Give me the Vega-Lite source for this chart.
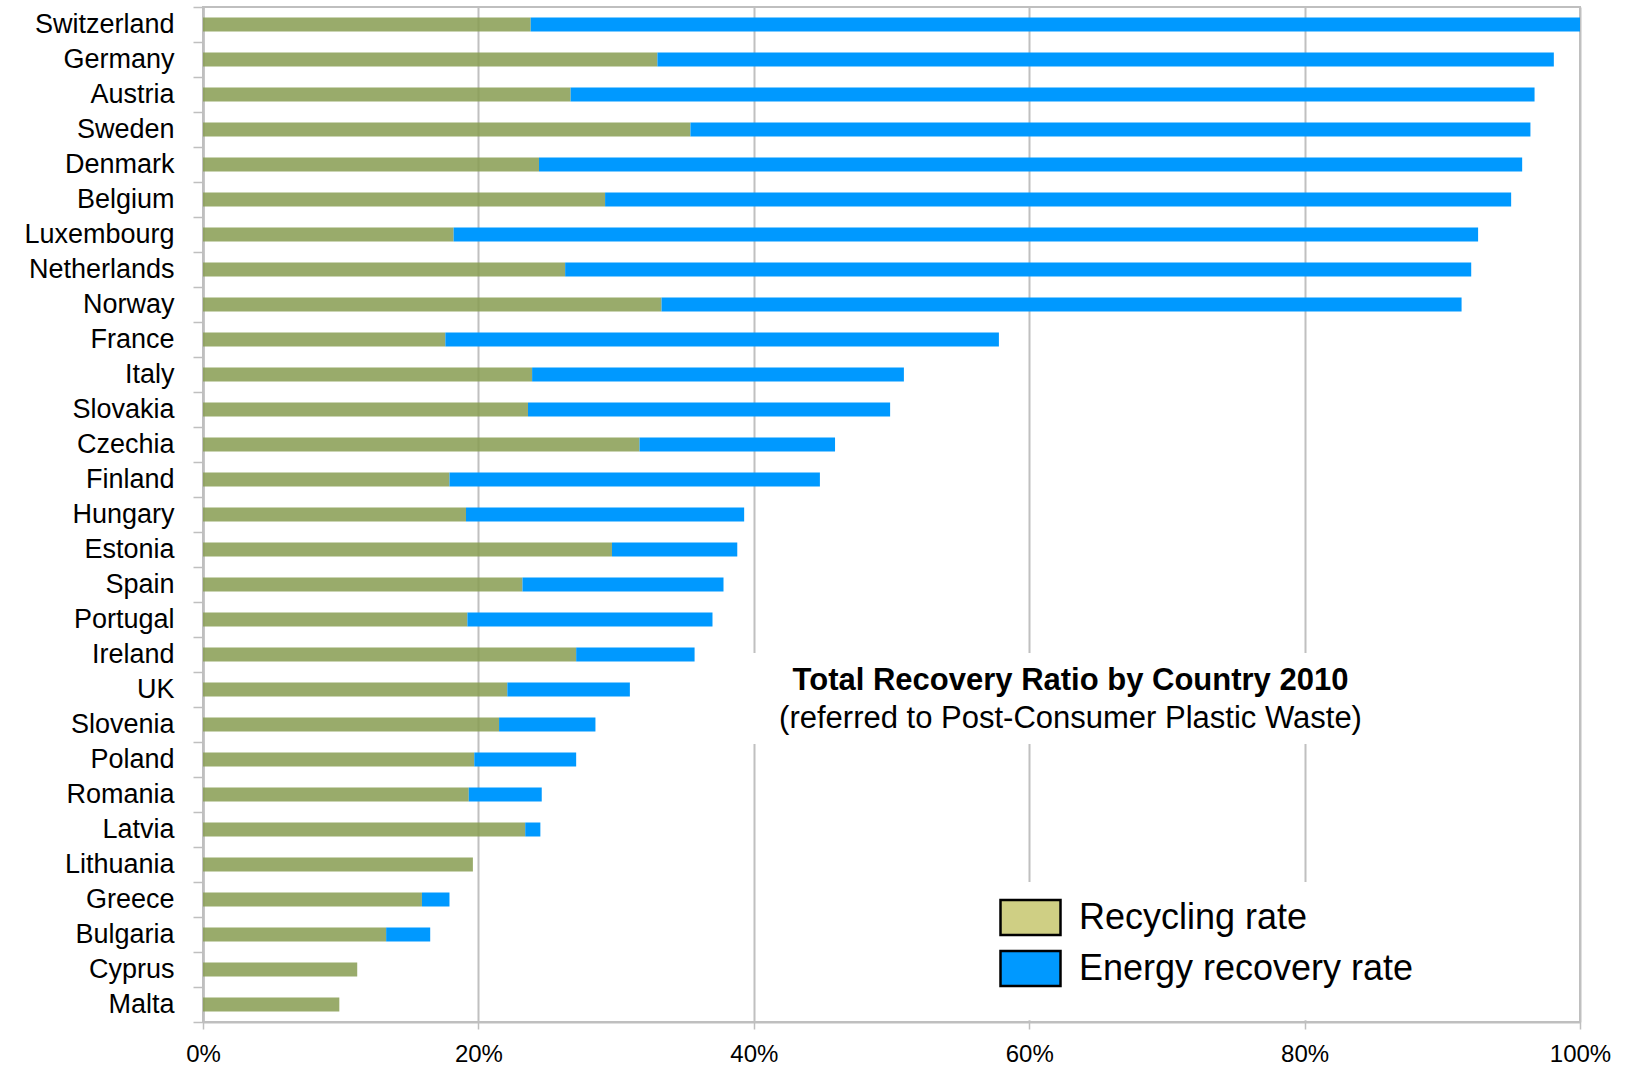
{
  "$schema": "https://vega.github.io/schema/vega-lite/v6.json",
  "width": 1377,
  "height": 1015,
  "autosize": {"type": "none"},
  "padding": {"left": 203, "top": 7, "right": 47, "bottom": 43},
  "background": "white",
  "config": {
    "font": "Liberation Sans",
    "view": {"stroke": "#bfbfbf", "strokeWidth": 2}
  },
  "datasets": {
    "rates": [
      {"country": "Switzerland", "type": "Recycling rate", "value": 23.8},
      {"country": "Switzerland", "type": "Energy recovery rate", "value": 76.2},
      {"country": "Germany", "type": "Recycling rate", "value": 33.0},
      {"country": "Germany", "type": "Energy recovery rate", "value": 65.1},
      {"country": "Austria", "type": "Recycling rate", "value": 26.7},
      {"country": "Austria", "type": "Energy recovery rate", "value": 70.0},
      {"country": "Sweden", "type": "Recycling rate", "value": 35.4},
      {"country": "Sweden", "type": "Energy recovery rate", "value": 61.0},
      {"country": "Denmark", "type": "Recycling rate", "value": 24.4},
      {"country": "Denmark", "type": "Energy recovery rate", "value": 71.4},
      {"country": "Belgium", "type": "Recycling rate", "value": 29.2},
      {"country": "Belgium", "type": "Energy recovery rate", "value": 65.8},
      {"country": "Luxembourg", "type": "Recycling rate", "value": 18.2},
      {"country": "Luxembourg", "type": "Energy recovery rate", "value": 74.4},
      {"country": "Netherlands", "type": "Recycling rate", "value": 26.3},
      {"country": "Netherlands", "type": "Energy recovery rate", "value": 65.8},
      {"country": "Norway", "type": "Recycling rate", "value": 33.3},
      {"country": "Norway", "type": "Energy recovery rate", "value": 58.1},
      {"country": "France", "type": "Recycling rate", "value": 17.6},
      {"country": "France", "type": "Energy recovery rate", "value": 40.2},
      {"country": "Italy", "type": "Recycling rate", "value": 23.9},
      {"country": "Italy", "type": "Energy recovery rate", "value": 27.0},
      {"country": "Slovakia", "type": "Recycling rate", "value": 23.6},
      {"country": "Slovakia", "type": "Energy recovery rate", "value": 26.3},
      {"country": "Czechia", "type": "Recycling rate", "value": 31.7},
      {"country": "Czechia", "type": "Energy recovery rate", "value": 14.2},
      {"country": "Finland", "type": "Recycling rate", "value": 17.9},
      {"country": "Finland", "type": "Energy recovery rate", "value": 26.9},
      {"country": "Hungary", "type": "Recycling rate", "value": 19.1},
      {"country": "Hungary", "type": "Energy recovery rate", "value": 20.2},
      {"country": "Estonia", "type": "Recycling rate", "value": 29.7},
      {"country": "Estonia", "type": "Energy recovery rate", "value": 9.1},
      {"country": "Spain", "type": "Recycling rate", "value": 23.2},
      {"country": "Spain", "type": "Energy recovery rate", "value": 14.6},
      {"country": "Portugal", "type": "Recycling rate", "value": 19.2},
      {"country": "Portugal", "type": "Energy recovery rate", "value": 17.8},
      {"country": "Ireland", "type": "Recycling rate", "value": 27.1},
      {"country": "Ireland", "type": "Energy recovery rate", "value": 8.6},
      {"country": "UK", "type": "Recycling rate", "value": 22.1},
      {"country": "UK", "type": "Energy recovery rate", "value": 8.9},
      {"country": "Slovenia", "type": "Recycling rate", "value": 21.5},
      {"country": "Slovenia", "type": "Energy recovery rate", "value": 7.0},
      {"country": "Poland", "type": "Recycling rate", "value": 19.7},
      {"country": "Poland", "type": "Energy recovery rate", "value": 7.4},
      {"country": "Romania", "type": "Recycling rate", "value": 19.3},
      {"country": "Romania", "type": "Energy recovery rate", "value": 5.3},
      {"country": "Latvia", "type": "Recycling rate", "value": 23.4},
      {"country": "Latvia", "type": "Energy recovery rate", "value": 1.1},
      {"country": "Lithuania", "type": "Recycling rate", "value": 19.6},
      {"country": "Lithuania", "type": "Energy recovery rate", "value": 0},
      {"country": "Greece", "type": "Recycling rate", "value": 15.9},
      {"country": "Greece", "type": "Energy recovery rate", "value": 2.0},
      {"country": "Bulgaria", "type": "Recycling rate", "value": 13.3},
      {"country": "Bulgaria", "type": "Energy recovery rate", "value": 3.2},
      {"country": "Cyprus", "type": "Recycling rate", "value": 11.2},
      {"country": "Cyprus", "type": "Energy recovery rate", "value": 0},
      {"country": "Malta", "type": "Recycling rate", "value": 9.9},
      {"country": "Malta", "type": "Energy recovery rate", "value": 0}
    ]
  },
  "layer": [
    {
      "data": {"name": "rates"},
      "layer": [
        {
          "mark": {"type": "bar", "height": {"band": 0.4}},
          "encoding": {
            "y": {
              "field": "country",
              "type": "nominal",
              "sort": null,
              "scale": {"paddingInner": 0, "paddingOuter": 0},
              "axis": {
                "title": null,
                "labelFontSize": 27,
                "labelColor": "black",
                "labelPadding": 19,
                "tickSize": 10,
                "tickColor": "#bfbfbf",
                "tickWidth": 1.5,
                "tickBand": "extent",
                "domainColor": "#bfbfbf",
                "domainWidth": 2.5,
                "grid": false
              }
            },
            "x": {
              "field": "value",
              "type": "quantitative",
              "stack": "zero",
              "scale": {"domain": [0, 100], "nice": false},
              "axis": {
                "title": null,
                "values": [0, 20, 40, 60, 80, 100],
                "labelExpr": "datum.value + '%'",
                "labelFontSize": 24,
                "labelColor": "black",
                "labelFlush": false,
                "labelPadding": 13,
                "tickSize": 7,
                "tickColor": "#bfbfbf",
                "tickWidth": 1.5,
                "grid": true,
                "gridColor": "#c0c0c0",
                "gridWidth": 2,
                "domainColor": "#bfbfbf",
                "domainWidth": 2
              }
            },
            "order": {"field": "type", "sort": "descending"},
            "fill": {
              "condition": {"test": "datum.type === 'Recycling rate'", "value": "#879c51"},
              "value": "#0099ff"
            },
            "opacity": {
              "condition": {"test": "datum.type === 'Recycling rate'", "value": 0.85},
              "value": 1
            }
          }
        },
        {
          "mark": {"type": "bar", "height": 0},
          "encoding": {
            "y": {"field": "country", "type": "nominal", "sort": null},
            "x": {"datum": 0, "type": "quantitative"},
            "x2": {"datum": 0},
            "color": {
              "field": "type",
              "type": "nominal",
              "scale": {
                "domain": ["Recycling rate", "Energy recovery rate"],
                "range": ["#cfcf84", "#0099ff"]
              },
              "legend": {
                "title": null,
                "orient": "none",
                "legendX": 786,
                "legendY": 869,
                "padding": 20,
                "rowPadding": 6,
                "symbolType": "M-1.5,-0.875H1.5V0.875H-1.5Z",
                "symbolSize": 1600,
                "symbolStrokeColor": "black",
                "symbolStrokeWidth": 2.5,
                "symbolOpacity": 1,
                "labelFontSize": 36,
                "labelColor": "black",
                "labelOffset": 27,
                "labelLimit": 600,
                "encode": {
                  "symbols": {
                    "update": {
                      "stroke": {"value": "black"},
                      "strokeWidth": {"value": 2.5},
                      "opacity": {"value": 1}
                    }
                  }
                }
              }
            }
          }
        }
      ]
    },
    {
      "layer": [
        {
          "data": {"values": [{}]},
          "mark": {"type": "rect", "fill": "white"},
          "encoding": {
            "x": {"datum": 39.3, "type": "quantitative"},
            "x2": {"datum": 87},
            "y": {"datum": 18.46, "type": "quantitative", "scale": {"domain": [0, 29], "reverse": true, "nice": false, "zero": false}, "axis": null},
            "y2": {"datum": 21.06}
          }
        },
        {
          "data": {"values": [{}]},
          "mark": {"type": "rect", "fill": "white"},
          "encoding": {
            "x": {"datum": 56.5, "type": "quantitative"},
            "x2": {"datum": 99.85},
            "y": {"datum": 25, "type": "quantitative", "scale": {"domain": [0, 29], "reverse": true, "nice": false, "zero": false}, "axis": null},
            "y2": {"datum": 28.95}
          }
        },
        {
          "data": {"values": [{}]},
          "mark": {"type": "text", "text": "Total Recovery Ratio by Country 2010", "fontSize": 31, "fontWeight": "bold", "align": "center", "baseline": "alphabetic", "color": "black"},
          "encoding": {
            "x": {"datum": 63, "type": "quantitative"},
            "y": {"datum": 19.51, "type": "quantitative", "scale": {"domain": [0, 29], "reverse": true, "nice": false, "zero": false}, "axis": null}
          }
        },
        {
          "data": {"values": [{}]},
          "mark": {"type": "text", "text": "(referred to Post-Consumer Plastic Waste)", "fontSize": 31, "align": "center", "baseline": "alphabetic", "color": "black"},
          "encoding": {
            "x": {"datum": 63, "type": "quantitative"},
            "y": {"datum": 20.6, "type": "quantitative", "scale": {"domain": [0, 29], "reverse": true, "nice": false, "zero": false}, "axis": null}
          }
        }
      ]
    }
  ],
  "resolve": {"scale": {"y": "independent"}}
}
